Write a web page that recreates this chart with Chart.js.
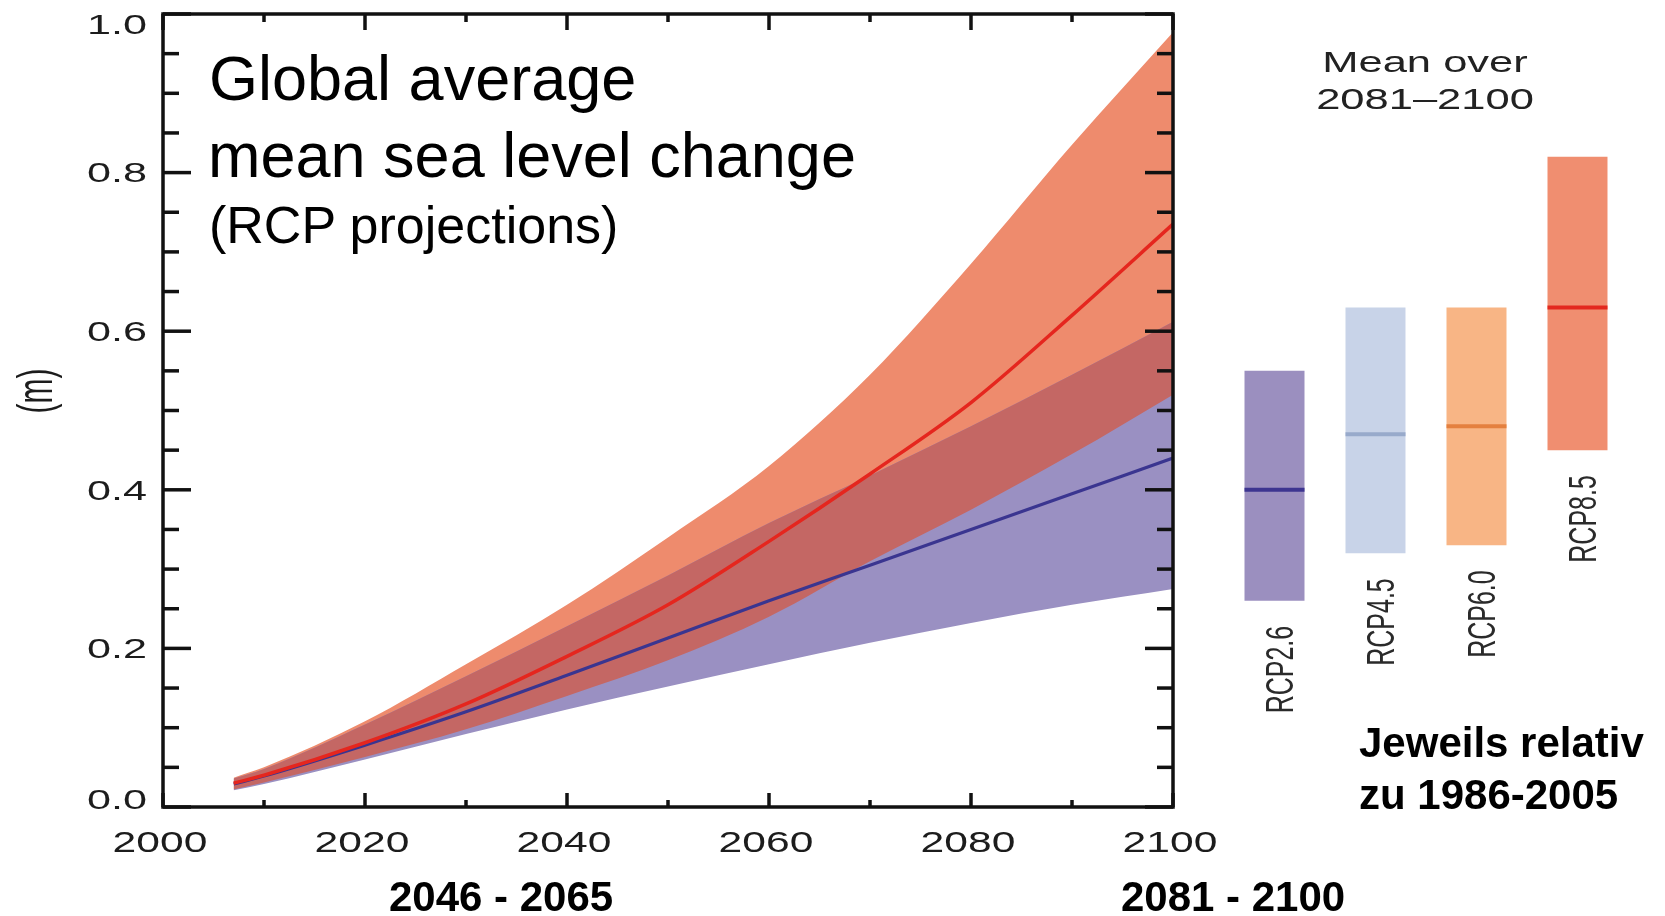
<!DOCTYPE html>
<html><head><meta charset="utf-8">
<script src="https://cdn.jsdelivr.net/npm/chart.js@4.4.1/dist/chart.umd.min.js"></script>
<style>
html,body{margin:0;padding:0;background:#fff;width:1665px;height:916px;overflow:hidden;}
#wrap{position:relative;width:1665px;height:916px;background:#fff;}
canvas{position:absolute;top:0;}
#main{left:0;}
#bars{left:1224px;}
.t{position:absolute;white-space:nowrap;font-family:"Liberation Sans",Arial,Helvetica,sans-serif;line-height:1;color:#000;}
.b{font-weight:bold;}
.s{color:#222;transform:translateX(-50%) scaleX(1.45);}
</style></head>
<body><div id="wrap">
<canvas id="main" width="1665" height="916"></canvas>
<canvas id="bars" width="404" height="916"></canvas>
<div class="t" style="left:209px;top:47px;font-size:63px;">Global average</div>
<div class="t" style="left:208px;top:124px;font-size:63px;">mean sea level change</div>
<div class="t" style="left:209px;top:199px;font-size:52px;">(RCP projections)</div>
<div class="t s" style="left:1425px;top:47px;font-size:30px;">Mean over</div>
<div class="t s" style="left:1425px;top:84px;font-size:30px;">2081–2100</div>
<div class="t b" style="left:1359px;top:722px;font-size:42px;">Jeweils relativ</div>
<div class="t b" style="left:1359px;top:774px;font-size:42px;">zu 1986-2005</div>
<div class="t b" style="left:389px;top:876px;font-size:42px;">2046 - 2065</div>
<div class="t b" style="left:1121px;top:876px;font-size:42px;">2081 - 2100</div>
</div>
<script>
// ---- data ----
const years      = [2007, 2010, 2020, 2030, 2040, 2050, 2060, 2070, 2080, 2090, 2100];
const rcp85Upper = [0.037, 0.050, 0.108, 0.180, 0.255, 0.340, 0.430, 0.545, 0.685, 0.835, 0.977];
const rcp85Mean  = [0.030, 0.040, 0.081, 0.130, 0.190, 0.255, 0.335, 0.420, 0.510, 0.620, 0.735];
const rcp85Lower = [0.022, 0.031, 0.063, 0.098, 0.140, 0.185, 0.240, 0.310, 0.375, 0.445, 0.520];
const rcp26Upper = [0.036, 0.048, 0.104, 0.165, 0.228, 0.292, 0.358, 0.418, 0.480, 0.545, 0.612];
const rcp26Mean  = [0.029, 0.039, 0.078, 0.120, 0.166, 0.213, 0.260, 0.305, 0.350, 0.395, 0.440];
const rcp26Lower = [0.021, 0.029, 0.060, 0.092, 0.123, 0.152, 0.180, 0.207, 0.232, 0.255, 0.275];

const scenarios  = ['RCP2.6', 'RCP4.5', 'RCP6.0', 'RCP8.5'];
const meanLow    = [0.26, 0.32, 0.33, 0.45];
const meanHigh   = [0.55, 0.63, 0.63, 0.82];
const meanMedian = [0.40, 0.47, 0.48, 0.63];

const yTickLabels = ['0.0', '0.2', '0.4', '0.6', '0.8', '1.0'];
const xTickLabels = ['2000', '2020', '2040', '2060', '2080', '2100'];

// ---- styles ----
const C_SALMON = '#EE8B6D', C_PURPLE = '#9A90C2', C_OVER = '#C46764';
const C_RED = '#E5261E', C_BLUE = '#3A3590';
const barColors = ['#9B8FBF', '#C8D3E8', '#F8B585', '#F08E70'];
const medColors = ['#3D3590', '#98AACB', '#E4803F', '#E3281E'];

const pts = arr => arr.map((v, i) => ({x: years[i], y: v}));
const overUpper = rcp85Upper.map((v, i) => Math.min(v, rcp26Upper[i]));
const overLower = rcp85Lower.map((v, i) => Math.max(v, rcp26Lower[i]));

const FONT = '"Liberation Sans", Arial, Helvetica, sans-serif';
const NONE = 'rgba(0,0,0,0)';
function band(data, fill, color, order) {
  return {data: pts(data), fill: fill, backgroundColor: color, borderColor: NONE, borderWidth: 1,
          pointRadius: 0, cubicInterpolationMode: 'monotone', order: order};
}

const frameTicks = {
  id: 'frameTicks',
  afterDraw(chart) {
    const {ctx, chartArea: a, scales: {x, y}} = chart;
    ctx.save();
    ctx.strokeStyle = '#111';
    ctx.lineWidth = 3.5;
    ctx.lineCap = 'butt';
    const seg = (x1, y1, x2, y2) => { ctx.beginPath(); ctx.moveTo(x1, y1); ctx.lineTo(x2, y2); ctx.stroke(); };
    for (let k = 0; k <= 20; k++) {
      const v = k * 0.05, py = y.getPixelForValue(v);
      const L = (k % 4 === 0) ? 28 : 16;
      seg(a.left, py, a.left + L, py);
      seg(a.right, py, a.right - L, py);
    }
    for (let k = 0; k <= 10; k++) {
      const px = x.getPixelForValue(2000 + k * 10);
      const major = k % 2 === 0;
      seg(px, a.bottom, px, a.bottom - (major ? 14 : 7));
      seg(px, a.top, px, a.top + (major ? 16 : 8));
    }
    ctx.strokeRect(a.left, a.top, a.right - a.left, a.bottom - a.top);
    ctx.fillStyle = '#1c1c1c';
    ctx.textBaseline = 'alphabetic';
    yTickLabels.forEach((t, i) => {
      let py = y.getPixelForValue(parseFloat(t));
      if (i === 0) py -= 8;
      if (i === yTickLabels.length - 1) py += 10;
      ctx.save();
      ctx.translate(147, py + 9.7);
      ctx.scale(1.6, 1);
      ctx.font = '27px ' + FONT;
      ctx.textAlign = 'right';
      ctx.fillText(t, 0, 0);
      ctx.restore();
    });
    xTickLabels.forEach(t => {
      const px = x.getPixelForValue(parseFloat(t)) - 3;
      ctx.save();
      ctx.translate(px, 852);
      ctx.scale(1.42, 1);
      ctx.font = '30px ' + FONT;
      ctx.textAlign = 'center';
      ctx.fillText(t, 0, 0);
      ctx.restore();
    });
    ctx.save();
    ctx.translate(38, 391);
    ctx.rotate(-Math.PI / 2);
    ctx.scale(1, 1.65);
    ctx.font = '30px ' + FONT;
    ctx.textAlign = 'center';
    ctx.textBaseline = 'middle';
    ctx.fillText('(m)', 0, 0);
    ctx.restore();
    ctx.restore();
  }
};

new Chart(document.getElementById('main'), {
  type: 'line',
  data: {
    datasets: [
      band(rcp85Upper, '+1', C_SALMON, 5),
      band(rcp85Lower, false, NONE, 5),
      band(rcp26Upper, '+1', C_PURPLE, 4),
      band(rcp26Lower, false, NONE, 4),
      band(overUpper, '+1', C_OVER, 3),
      band(overLower, false, NONE, 3),
      {data: pts(rcp85Mean), borderColor: C_RED, borderWidth: 3.5, pointRadius: 0, fill: false,
       cubicInterpolationMode: 'monotone', order: 0},
      {data: pts(rcp26Mean), borderColor: C_BLUE, borderWidth: 3.2, pointRadius: 0, fill: false,
       cubicInterpolationMode: 'monotone', order: 1}
    ]
  },
  options: {
    responsive: false, animation: false, events: [],
    layout: {autoPadding: false, padding: {left: 163, top: 14, right: 492, bottom: 109}},
    plugins: {legend: {display: false}, tooltip: {enabled: false}},
    scales: {
      x: {type: 'linear', min: 2000, max: 2100, display: false},
      y: {type: 'linear', min: 0, max: 1, display: false}
    }
  },
  plugins: [frameTicks]
});

const barLabels = {
  id: 'barLabels',
  afterDraw(chart) {
    const {ctx, scales: {x, y}} = chart;
    ctx.save();
    ctx.fillStyle = '#2a2a2a';
    ctx.font = '25px ' + FONT;
    scenarios.forEach((s, i) => {
      const px = x.getPixelForValue(i) + 8;
      const py = y.getPixelForValue(meanLow[i]) + 25;
      ctx.save();
      ctx.translate(px, py);
      ctx.rotate(-Math.PI / 2);
      ctx.scale(1, 1.56);
      ctx.textAlign = 'right';
      ctx.textBaseline = 'middle';
      ctx.fillText(s, 0, 0);
      ctx.restore();
    });
    ctx.restore();
  }
};

new Chart(document.getElementById('bars'), {
  type: 'bar',
  data: {
    labels: scenarios,
    datasets: [
      {type: 'line', data: meanMedian, showLine: false, pointStyle: 'line', pointRadius: 30,
       pointBorderWidth: 4, pointBorderColor: medColors, pointBackgroundColor: medColors, order: 0},
      {type: 'bar', data: meanLow.map((l, i) => [l, meanHigh[i]]), backgroundColor: barColors,
       borderWidth: 0, barPercentage: 0.594, categoryPercentage: 1, order: 1}
    ]
  },
  options: {
    responsive: false, animation: false, events: [],
    layout: {autoPadding: false, padding: {left: 0, top: 14, right: 0, bottom: 109}},
    plugins: {legend: {display: false}, tooltip: {enabled: false}},
    scales: {
      x: {type: 'category', display: false, offset: true},
      y: {type: 'linear', min: 0, max: 1, display: false}
    }
  },
  plugins: [barLabels]
});
</script>
</body></html>
